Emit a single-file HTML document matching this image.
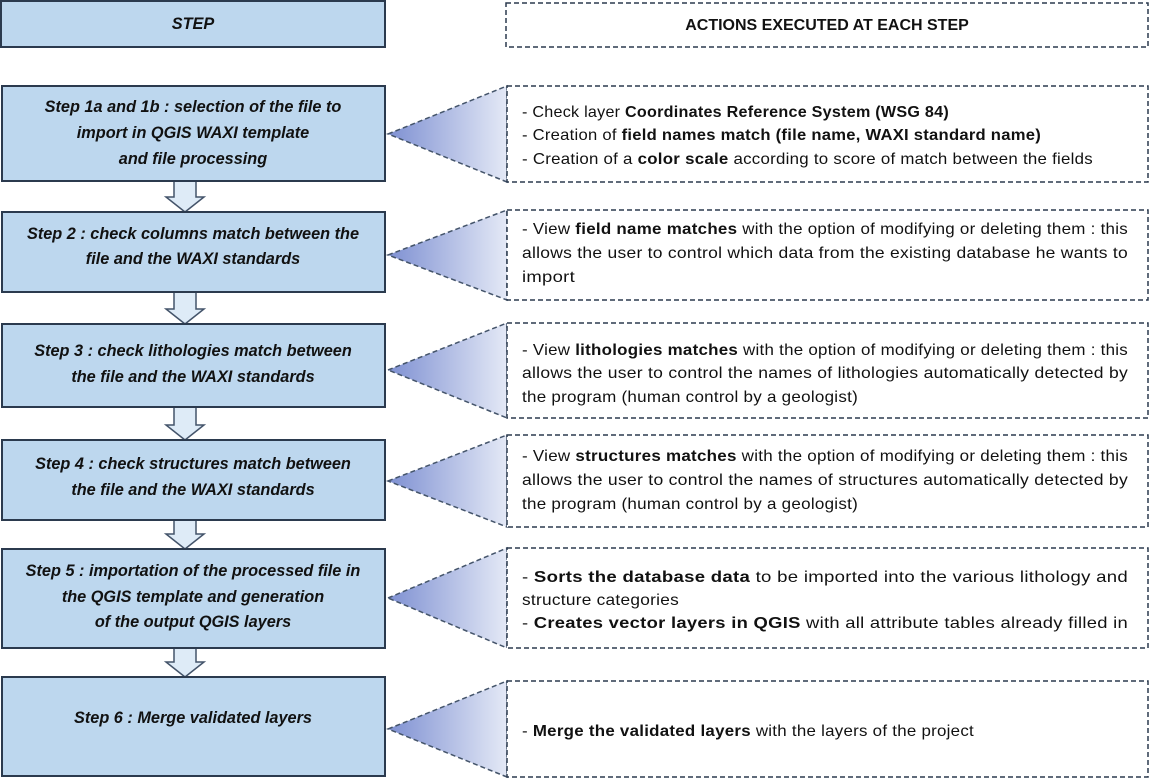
<!DOCTYPE html>
<html><head><meta charset="utf-8"><style>
html,body{margin:0;padding:0;background:#fff;}
svg{display:block;}
.st{font-family:"Liberation Sans",sans-serif;font-size:16.3px;font-weight:bold;font-style:italic;fill:#111;}
.tx{font-family:"Liberation Sans",sans-serif;font-size:16px;fill:#111;letter-spacing:0.25px;}
.b{font-weight:bold;}
.box{fill:#bdd7ee;stroke:#2b3a4e;stroke-width:2;}
.dash{fill:#fff;stroke:#2b3a4e;stroke-width:1.5;stroke-dasharray:5,3;}
.tri{fill:url(#g);stroke:#44546a;stroke-width:1.5;stroke-dasharray:5,3;}
.arr{fill:#deebf7;stroke:#44546a;stroke-width:1.5;}
</style></head><body>
<svg width="1150" height="781" viewBox="0 0 1150 781" xmlns="http://www.w3.org/2000/svg">
<defs><linearGradient id="g" x1="0" y1="0" x2="1" y2="0">
<stop offset="0" stop-color="#7e90d2"/><stop offset="1" stop-color="#e4e9f6"/></linearGradient></defs>

<rect class="box" x="1" y="1" width="384" height="46"/>
<text class="st" x="193" y="29" text-anchor="middle">STEP</text>
<rect class="dash" x="506" y="3" width="642" height="44"/>
<text class="tx b" x="827" y="30" text-anchor="middle" style="letter-spacing:0">ACTIONS EXECUTED AT EACH STEP</text>

<g class="arr">
<path d="M174 181 V197 H166 L185 212 L204 197 H196 V181 Z"/>
<path d="M174 292 V309 H166 L185 324 L204 309 H196 V292 Z"/>
<path d="M174 407 V425 H166 L185 440 L204 425 H196 V407 Z"/>
<path d="M174 520 V534 H166 L185 549 L204 534 H196 V520 Z"/>
<path d="M174 648 V662 H166 L185 677 L204 662 H196 V648 Z"/>
</g>

<rect class="box" x="2" y="86" width="383" height="95"/>
<text class="st" text-anchor="middle"><tspan x="193" y="112">Step 1a and 1b : selection of the file to</tspan><tspan x="193" y="138">import in QGIS WAXI template</tspan><tspan x="193" y="164">and file processing</tspan></text>
<rect class="box" x="2" y="212" width="383" height="80"/>
<text class="st" text-anchor="middle"><tspan x="193" y="239">Step 2 : check columns match between the</tspan><tspan x="193" y="264">file and the WAXI standards</tspan></text>
<rect class="box" x="2" y="324" width="383" height="83"/>
<text class="st" text-anchor="middle"><tspan x="193" y="356">Step 3 : check lithologies match between</tspan><tspan x="193" y="382">the file and the WAXI standards</tspan></text>
<rect class="box" x="2" y="440" width="383" height="80"/>
<text class="st" text-anchor="middle"><tspan x="193" y="469">Step 4 : check structures match between</tspan><tspan x="193" y="495">the file and the WAXI standards</tspan></text>
<rect class="box" x="2" y="549" width="383" height="99"/>
<text class="st" text-anchor="middle"><tspan x="193" y="576">Step 5 : importation of the processed file in</tspan><tspan x="193" y="602">the QGIS template and generation</tspan><tspan x="193" y="627">of the output QGIS layers</tspan></text>
<rect class="box" x="2" y="677" width="383" height="99"/>
<text class="st" x="193" y="723" text-anchor="middle">Step 6 : Merge validated layers</text>

<polygon class="tri" points="388,134 507,86 507,182"/>
<polygon class="tri" points="388,255 507,210 507,300"/>
<polygon class="tri" points="388,370 507,323 507,418"/>
<polygon class="tri" points="388,481 507,435 507,527"/>
<polygon class="tri" points="388,598 507,548 507,648"/>
<polygon class="tri" points="388,729 507,681 507,777"/>

<rect class="dash" x="507" y="86" width="641" height="96"/>
<text class="tx"><tspan x="522" y="117" textLength="427" lengthAdjust="spacingAndGlyphs">- Check layer <tspan class="b">Coordinates Reference System (WSG 84)</tspan></tspan>
<tspan x="522" y="140" textLength="519" lengthAdjust="spacingAndGlyphs">- Creation of <tspan class="b">field names match (file name, WAXI standard name)</tspan></tspan>
<tspan x="522" y="164" textLength="571" lengthAdjust="spacingAndGlyphs">- Creation of a <tspan class="b">color scale</tspan> according to score of match between the fields</tspan></text>

<rect class="dash" x="507" y="210" width="641" height="90"/>
<text class="tx"><tspan x="522" y="234" textLength="606" lengthAdjust="spacingAndGlyphs">- View <tspan class="b">field name matches</tspan> with the option of modifying or deleting them : this</tspan>
<tspan x="522" y="258" textLength="606" lengthAdjust="spacingAndGlyphs">allows the user to control which data from the existing database he wants to</tspan>
<tspan x="522" y="282" textLength="53" lengthAdjust="spacingAndGlyphs">import</tspan></text>

<rect class="dash" x="507" y="323" width="641" height="95"/>
<text class="tx"><tspan x="522" y="355" textLength="606" lengthAdjust="spacingAndGlyphs">- View <tspan class="b">lithologies matches</tspan> with the option of modifying or deleting them : this</tspan>
<tspan x="522" y="378" textLength="606" lengthAdjust="spacingAndGlyphs">allows the user to control the names of lithologies automatically detected by</tspan>
<tspan x="522" y="402" textLength="336" lengthAdjust="spacingAndGlyphs">the program (human control by a geologist)</tspan></text>

<rect class="dash" x="507" y="435" width="641" height="92"/>
<text class="tx"><tspan x="522" y="461" textLength="606" lengthAdjust="spacingAndGlyphs">- View <tspan class="b">structures matches</tspan> with the option of modifying or deleting them : this</tspan>
<tspan x="522" y="485" textLength="606" lengthAdjust="spacingAndGlyphs">allows the user to control the names of structures automatically detected by</tspan>
<tspan x="522" y="509" textLength="336" lengthAdjust="spacingAndGlyphs">the program (human control by a geologist)</tspan></text>

<rect class="dash" x="507" y="548" width="641" height="100"/>
<text class="tx"><tspan x="522" y="582" textLength="606" lengthAdjust="spacingAndGlyphs">- <tspan class="b">Sorts the database data</tspan> to be imported into the various lithology and</tspan>
<tspan x="522" y="605" textLength="157" lengthAdjust="spacingAndGlyphs">structure categories</tspan>
<tspan x="522" y="628" textLength="606" lengthAdjust="spacingAndGlyphs">- <tspan class="b">Creates vector layers in QGIS</tspan> with all attribute tables already filled in</tspan></text>

<rect class="dash" x="507" y="681" width="641" height="96"/>
<text class="tx"><tspan x="522" y="736" textLength="452" lengthAdjust="spacingAndGlyphs">- <tspan class="b">Merge the validated layers</tspan> with the layers of the project</tspan></text>
</svg>
</body></html>
